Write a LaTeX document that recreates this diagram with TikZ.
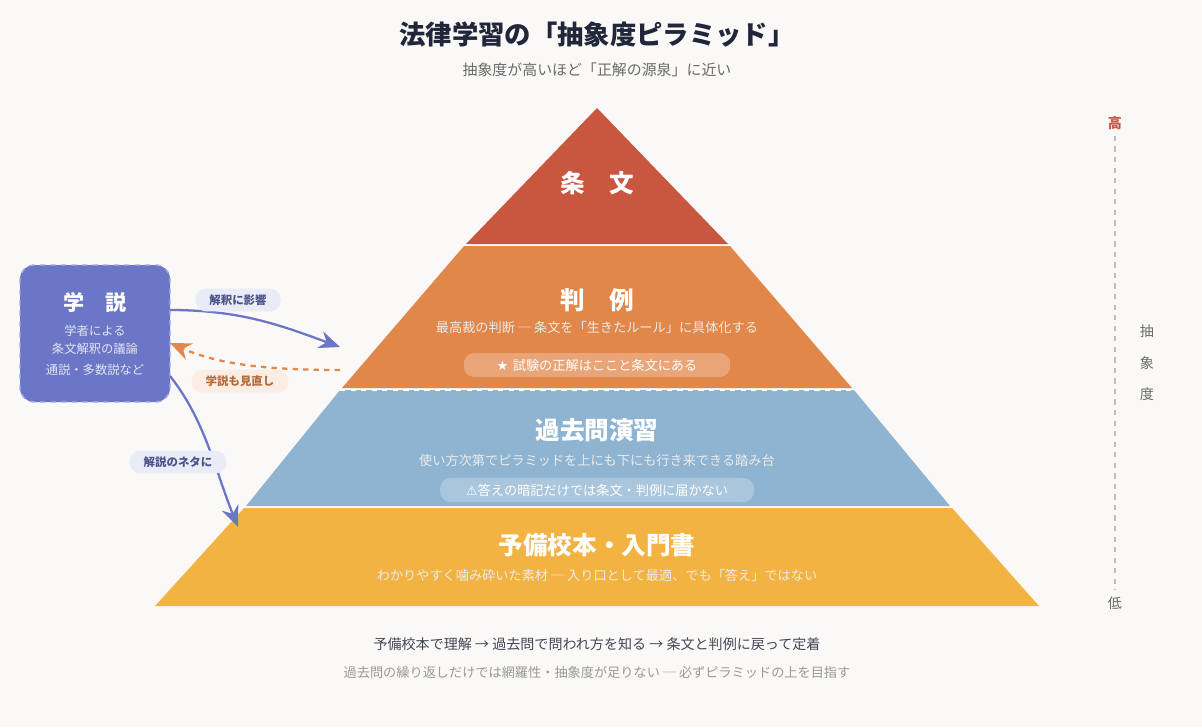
\documentclass[tikz,border=0pt]{standalone}
\usepackage{fontspec}
\setmainfont{Noto Sans CJK JP}
\newfontfamily\symfont{DejaVu Sans}
\usetikzlibrary{arrows.meta, positioning}
\definecolor{bgcol}{HTML}{FAF9F7}
\definecolor{jobun}{HTML}{C9563F}
\definecolor{hanrei}{HTML}{E2874A}
\definecolor{kakomon}{HTML}{8EB4D1}
\definecolor{yobiko}{HTML}{F2B342}
\definecolor{gakusetsu}{HTML}{6B77C6}
\definecolor{darktxt}{HTML}{22263A}
\definecolor{graytxt}{HTML}{6A6A6A}
\tikzset{
  tiername/.style = {text = white, font = \bfseries\fontsize{14}{16}\selectfont},
  tiersub/.style = {text = white!92!black, font = \fontsize{7.5}{9}\selectfont},
  pill/.style = {fill = white, fill opacity = 0.25, text opacity = 1, text = white, rounded corners = 6pt, font = \fontsize{7.5}{9}\selectfont, minimum height = 13pt},
  tag/.style = {rounded corners = 6pt, font = \bfseries\fontsize{6.5}{8}\selectfont, minimum height = 12pt, inner xsep = 8pt},
  link/.style = {draw = gakusetsu, line width = 1.3pt, -{Stealth[length = 12pt, width = 10pt]}}
}
\begin{document}
\begin{tikzpicture}[x = 0.02cm, y = -0.02cm]
\fill[bgcol] (0,0) rectangle (1202,727);
\useasboundingbox (0,0) rectangle (1202,727);

% title
\node[text = darktxt, font = \bfseries\fontsize{15}{18}\selectfont] (title) at (597,35) {法律学習の「抽象度ピラミッド」};
\node[text = graytxt, font = \fontsize{8.5}{10}\selectfont] (subtitle) at (597,70) {抽象度が高いほど「正解の源泉」に近い};

% pyramid tiers
\fill[jobun] (597,108) -- (728,244) -- (466,244) -- cycle;
\fill[hanrei] (464,246) -- (730,246) -- (852,388) -- (342,388) -- cycle;
\fill[kakomon] (340,390) -- (854,390) -- (950,506) -- (246,506) -- cycle;
\draw[white, dashed, line width = 0.8pt] (340,390) -- (854,390);
\fill[yobiko] (244,508) -- (952,508) -- (1039,606) -- (155,606) -- cycle;

\node[tiername] (jobunlbl) at (597,183) {条\hspace{1em}文};
\node[tiername] (hanreilbl) at (597,300) {判\hspace{1em}例};
\node[tiersub] (hanreisub) at (597,328) {最高裁の判断 ─ 条文を「生きたルール」に具体化する};
\node[pill, minimum width = 275\pgflinewidth, text width = 145pt, align = center] (hanreipill) at (597,365) {{\symfont ★} 試験の正解はここと条文にある};
\node[tiername] (kakomonlbl) at (597,430) {過去問演習};
\node[tiersub] (kakomonsub) at (597,460) {使い方次第でピラミッドを上にも下にも行き来できる踏み台};
\node[pill, text width = 172pt, align = center] (kakomonpill) at (597,490) {{\symfont ⚠}答えの暗記だけでは条文・判例に届かない};
\node[tiername] (yobikolbl) at (597,545) {予備校本・入門書};
\node[tiersub] (yobikosub) at (597,575) {わかりやすく噛み砕いた素材 ─ 入り口として最適、でも「答え」ではない};

% gakusetsu box
\filldraw[fill = gakusetsu, draw = gakusetsu!60!white, dashed, line width = 0.8pt, rounded corners = 8pt] (20,265) rectangle (170,402);
\node[text = white, font = \bfseries\fontsize{12}{14}\selectfont] (gakulbl) at (95,302) {学\hspace{1em}説};
\node[text = white!80!gakusetsu, font = \fontsize{7}{10}\selectfont, align = center] (gakusub) at (95,340) {学者による\\条文解釈の議論};
\node[text = white!80!gakusetsu, font = \fontsize{7}{9}\selectfont] (gakusub2) at (95,370) {通説・多数説など};
\coordinate (boxA) at (170,310);
\coordinate (boxB) at (170,343);
\coordinate (boxC) at (170,376);
\coordinate (hanreiIn) at (340,347);
\coordinate (hanreiOut) at (340,370);
\coordinate (yobikoIn) at (238,527);

% links
\draw[link] (boxA) .. controls (240,310) and (280,325) .. (hanreiIn);
\draw[draw = hanrei, dashed, line width = 1.3pt, -{Stealth[length = 12pt, width = 10pt]}] (hanreiOut) .. controls (270,370) and (220,365) .. (boxB);
\draw[link] (boxC) .. controls (205,420) and (215,470) .. (yobikoIn);
\node[tag, fill = gakusetsu!15!white, text = gakusetsu!70!black] (tag1) at (238,300) {解釈に影響};
\node[tag, fill = hanrei!15!white, text = hanrei!80!black] (tag2) at (240,381) {学説も見直し};
\node[tag, fill = gakusetsu!15!white, text = gakusetsu!70!black] (tag3) at (178,462) {解説のネタに};

% abstraction scale
\node[text = jobun, font = \bfseries\fontsize{8}{10}\selectfont] (high) at (1115,123) {高};
\node[text = graytxt, font = \fontsize{8}{10}\selectfont] (low) at (1115,603) {低};
\draw[gray!50, dashed, line width = 0.7pt] (high) -- (low);
\node[text = graytxt, font = \fontsize{8}{10}\selectfont, align = center] (scale) at (1147,363) {抽\\[8pt]象\\[8pt]度};

% footer
\node[text = darktxt!85!white, font = \fontsize{8}{10}\selectfont] (foot1) at (597,644) {予備校本で理解 → 過去問で問われ方を知る → 条文と判例に戻って定着};
\node[text = gray!80!white, font = \fontsize{7.5}{9}\selectfont] (foot2) at (597,672) {過去問の繰り返しだけでは網羅性・抽象度が足りない ─ 必ずピラミッドの上を目指す};
\end{tikzpicture}
\end{document}
